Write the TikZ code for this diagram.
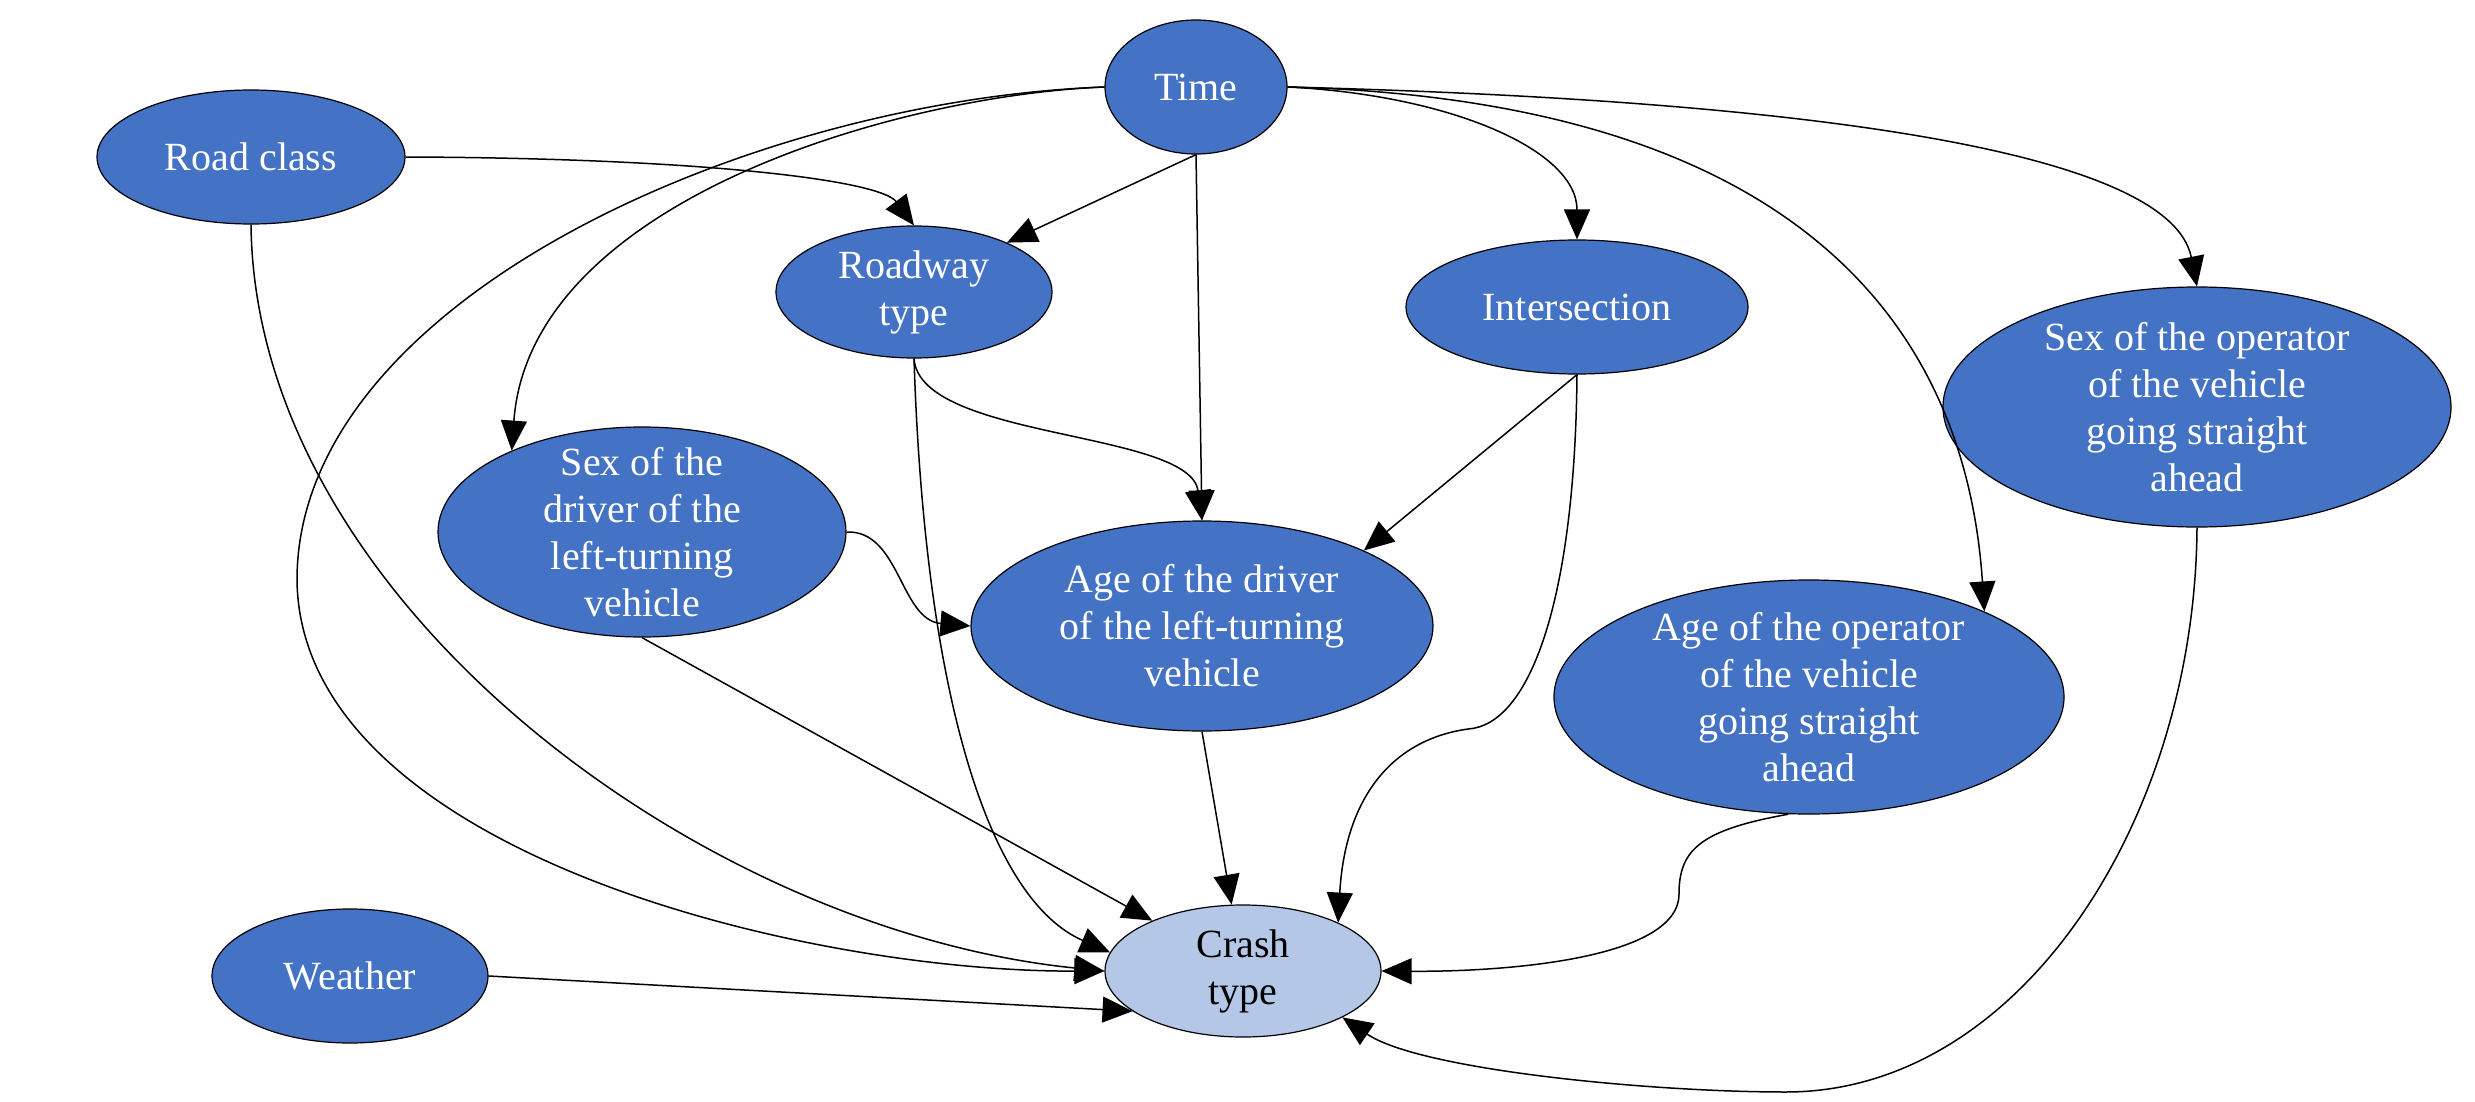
\documentclass[tikz,border=0pt]{standalone}
\usepackage{fontspec}
\setmainfont{Liberation Serif}
\usetikzlibrary{shapes.geometric,arrows.meta}
\definecolor{nodeblue}{HTML}{4472C4}
\definecolor{crashblue}{HTML}{B4C7E7}
\tikzset{
  var/.style={ellipse, draw=black, line width=0.6pt, fill=nodeblue, inner sep=0pt},
  outc/.style={var, fill=crashblue},
  vtext/.style={text=white, align=center, inner sep=0pt, font=\fontsize{20}{23.5}\selectfont},
  ctext/.style={vtext, text=black},
  arr/.style={-{Triangle[length=15pt,width=13pt]}, line width=0.75pt, black},
}
\begin{document}
\begin{tikzpicture}[x=0.5pt,y=-0.5pt]
\useasboundingbox (0,0) rectangle (2475,1102);
\node[var, minimum width=91pt, minimum height=67pt, label={[vtext]center:{Time}}] (time) at (1196,87) {};
\node[var, minimum width=154pt, minimum height=67pt, label={[vtext]center:{Road class}}] (road) at (251,157) {};
\node[var, minimum width=138pt, minimum height=66pt, label={[vtext]center:{Roadway\\type}}] (rtype) at (914,292) {};
\node[var, minimum width=171pt, minimum height=67pt, label={[vtext]center:{Intersection}}] (inter) at (1577,307) {};
\node[var, minimum width=254pt, minimum height=120pt, label={[vtext]center:{Sex of the operator\\of the vehicle\\going straight\\ahead}}] (sexo) at (2197,407) {};
\node[var, minimum width=204pt, minimum height=105pt, label={[vtext]center:{Sex of the\\driver of the\\left-turning\\vehicle}}] (sexd) at (642,532) {};
\node[var, minimum width=231pt, minimum height=105pt, label={[vtext]center:{Age of the driver\\of the left-turning\\vehicle}}] (aged) at (1202,626) {};
\node[var, minimum width=255pt, minimum height=117pt, label={[vtext]center:{Age of the operator\\of the vehicle\\going straight\\ahead}}] (ageo) at (1809,697) {};
\node[var, minimum width=138pt, minimum height=67pt, label={[vtext]center:{Weather}}] (weather) at (350,976) {};
\node[outc, minimum width=138pt, minimum height=66pt, label={[ctext]center:{Crash\\type}}] (crash) at (1243,971) {};

\coordinate (w1) at (297,580);
\coordinate (w2) at (1468,729);
\coordinate (w3) at (1679,894);
\coordinate (w4) at (1786,1092);

\draw[arr] (time.south) -- (rtype.28);
\draw[arr] (time.south) -- (aged.north);
\draw[arr] (time.west) .. controls (900,95) and (530,200) .. (sexd.148);
\draw[arr] (time.west) .. controls (750,100) and (297,300) .. (w1) .. controls (300,850) and (800,972) .. (crash.west);
\draw[arr] (road.east) .. controls (700,158) and (880,180) .. (rtype.north);
\draw[arr] (road.south) .. controls (255,600) and (700,930) .. (crash.west);
\draw[arr] (time.east) .. controls (1450,95) and (1577,150) .. (inter.north);
\draw[arr] (time.east) .. controls (1790,100) and (1965,320) .. (ageo.26);
\draw[arr] (time.east) .. controls (1800,100) and (2170,150) .. (sexo.north);
\draw[arr] (rtype.south) .. controls (920,440) and (1190,430) .. (aged.north);
\draw[arr] (rtype.south) .. controls (925,700) and (990,900) .. (crash.172);
\draw[arr] (sexd.east) .. controls (900,530) and (900,620) .. (aged.west);
\draw[arr] (sexd.south) -- (crash);
\draw[arr] (aged.south) -- (crash);
\draw[arr] (inter.south) -- (aged.25);
\draw[arr] (inter.south) .. controls (1575,600) and (1530,725) .. (w2) .. controls (1390,740) and (1345,800) .. (crash.27);
\draw[arr] (ageo.260) .. controls (1700,830) and (1679,850) .. (w3) .. controls (1679,960) and (1500,972) .. (crash.east);
\draw[arr] (sexo.south) .. controls (2195,820) and (2020,1092) .. (w4) .. controls (1650,1092) and (1420,1070) .. (crash.-25);
\draw[arr] (weather.east) -- (crash.200);
\end{tikzpicture}
\end{document}
